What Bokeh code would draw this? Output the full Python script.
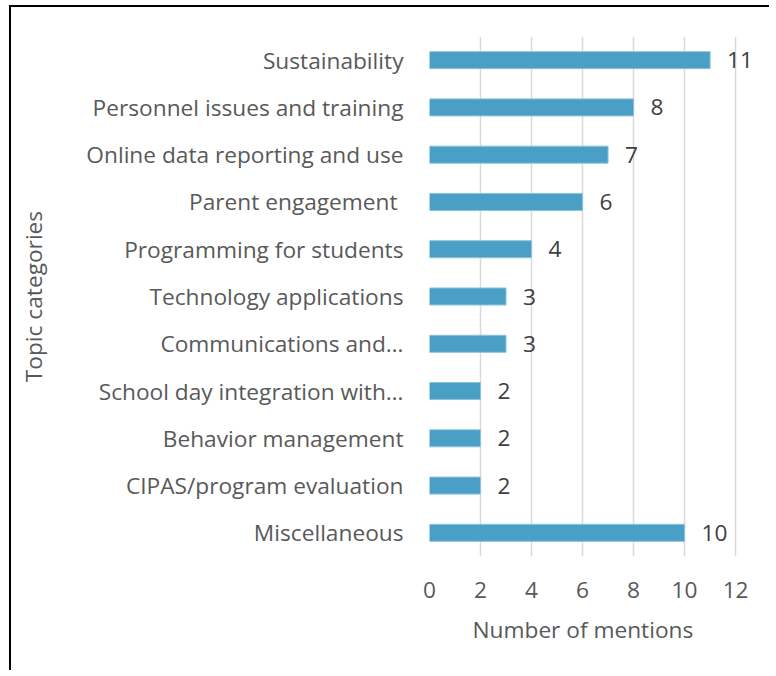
from bokeh.plotting import figure
from bokeh.models import ColumnDataSource, FactorRange, Range1d, FixedTicker, Label, Title
from bokeh.embed import file_html
from bokeh.resources import INLINE

categories = [
    "Sustainability",
    "Personnel issues and training",
    "Online data reporting and use",
    "Parent engagement ",
    "Programming for students",
    "Technology applications",
    "Communications and\u2026",
    "School day integration with\u2026",
    "Behavior management",
    "CIPAS/program evaluation",
    "Miscellaneous",
]
mentions = [11, 8, 7, 6, 4, 3, 3, 2, 2, 2, 10]
x_ticks = [0, 2, 4, 6, 8, 10, 12]

FONT = "Open Sans"
TXT = "#595959"
FS = "22.7px"

src = ColumnDataSource(dict(cat=categories, val=mentions))
factors = list(reversed(categories))

# x range extends a little beyond the last tick (12) so the "11" label fits
p = figure(
    width=760, height=665,
    y_range=FactorRange(factors=factors),
    x_range=Range1d(0, 12.78),
    output_backend="svg", toolbar_location=None,
    min_border_left=418, min_border_top=29, min_border_right=16, min_border_bottom=116,
)
p.styles = {"border-top": "2px solid #000000", "border-left": "2px solid #000000",
            "margin": "5px 0 0 9px"}
p.outline_line_color = None
p.background_fill_color = "white"
p.border_fill_color = "white"

p.hbar(y="cat", right="val", left=0, height=0.36, source=src,
       fill_color="#4A9FC6", line_color="#8CC3DC", line_width=1)

# value labels (synthetic categorical coordinate = factor index + 0.5)
for c, v in zip(categories, mentions):
    p.add_layout(Label(x=v, y=factors.index(c) + 0.5, text=str(v), x_offset=17,
                       text_baseline="middle", text_align="left", text_font=FONT,
                       text_font_size=FS, text_color="#404040"))

# grid
p.ygrid.grid_line_color = None
p.xgrid.grid_line_color = "#D9D9D9"
p.xgrid.grid_line_width = 1.5
p.xaxis.ticker = FixedTicker(ticks=x_ticks)

for ax in (p.xaxis[0], p.yaxis[0]):
    ax.axis_line_color = None
    ax.major_tick_line_color = None
    ax.minor_tick_line_color = None
    ax.major_tick_out = 0
    ax.major_tick_in = 0
    ax.major_label_text_font = FONT
    ax.major_label_text_font_size = FS
    ax.major_label_text_color = TXT
    ax.axis_label_text_font = FONT
    ax.axis_label_text_font_size = FS
    ax.axis_label_text_color = TXT
    ax.axis_label_text_font_style = "normal"

p.yaxis.axis_label = "Topic categories"
p.yaxis.major_label_standoff = 26
p.yaxis.axis_label_standoff = 34
p.xaxis.major_label_standoff = 25

# x-axis title centred under the 0-12 span
xt = Title(text="Number of mentions", align="left", offset=43, standoff=23,
           text_font=FONT, text_font_size=FS, text_color=TXT, text_font_style="normal")
p.add_layout(xt, "below")

open("out.html", "w").write(file_html(p, INLINE))
